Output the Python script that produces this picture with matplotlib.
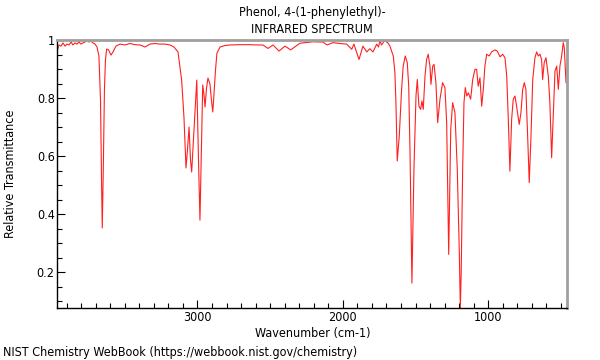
import matplotlib
matplotlib.use("Agg")
import matplotlib.pyplot as plt
from matplotlib.ticker import MultipleLocator, FuncFormatter

plt.rcParams['font.family'] = ['DejaVu Sans']
plt.rcParams['font.stretch'] = 'condensed'

compound = "Phenol, 4-(1-phenylethyl)-"

# spectrum (wavenumber in cm-1, relative transmittance)
wavenumber = [3963, 3953, 3939, 3925, 3911, 3898, 3884, 3870, 3856, 3843,
              3829, 3815, 3801, 3788, 3774, 3760, 3746, 3733, 3719, 3705,
              3691, 3678, 3667, 3660, 3655, 3648, 3640, 3633, 3625, 3612,
              3595, 3581, 3561, 3533, 3499, 3464, 3430, 3395, 3361, 3327,
              3292, 3258, 3224, 3189, 3162, 3134, 3109, 3093, 3079, 3069,
              3058, 3048, 3040, 3024, 3005, 2993, 2983, 2972, 2964, 2955,
              2948, 2938, 2928, 2914, 2904, 2895, 2887, 2876, 2866, 2845,
              2811, 2776, 2708, 2639, 2591, 2550, 2515, 2481, 2439, 2398,
              2359, 2295, 2206, 2137, 2109, 2068, 2020, 1974, 1939, 1924,
              1889, 1862, 1836, 1814, 1793, 1767, 1755, 1745, 1734, 1724,
              1710, 1699, 1690, 1676, 1669, 1653, 1642, 1635, 1626, 1612,
              1596, 1585, 1571, 1557, 1547, 1538, 1525, 1511, 1497, 1488,
              1477, 1465, 1456, 1447, 1435, 1424, 1413, 1401, 1394, 1382,
              1373, 1360, 1348, 1332, 1314, 1298, 1286, 1279, 1272, 1258,
              1245, 1229, 1213, 1199, 1192, 1186, 1176, 1167, 1158, 1148,
              1137, 1121, 1107, 1091, 1080, 1069, 1057, 1045, 1034, 1023,
              1011, 993, 977, 954, 938, 919, 901, 885, 873, 862,
              851, 839, 828, 816, 805, 787, 775, 763, 752, 741,
              729, 718, 706, 694, 679, 667, 656, 644, 633, 626,
              615, 603, 587, 576, 564, 553, 541, 529, 518, 507,
              495, 484, 477, 465]

transmittance = [0.966, 0.983, 0.979, 0.990, 0.979, 0.986, 0.983, 0.993, 0.983, 0.990,
                 0.986, 0.993, 0.986, 0.990, 0.993, 0.998, 0.993, 0.997, 0.990, 0.986,
                 0.976, 0.945, 0.793, 0.517, 0.352, 0.552, 0.828, 0.931, 0.969, 0.966,
                 0.948, 0.959, 0.979, 0.986, 0.983, 0.988, 0.984, 0.983, 0.976, 0.986,
                 0.988, 0.986, 0.986, 0.983, 0.976, 0.959, 0.862, 0.734, 0.559, 0.621,
                 0.700, 0.586, 0.545, 0.690, 0.862, 0.586, 0.379, 0.655, 0.845, 0.810,
                 0.769, 0.834, 0.869, 0.848, 0.793, 0.752, 0.810, 0.897, 0.955, 0.976,
                 0.981, 0.983, 0.984, 0.984, 0.983, 0.983, 0.971, 0.983, 0.962, 0.979,
                 0.966, 0.989, 0.994, 0.993, 0.983, 0.991, 0.988, 0.986, 0.968, 0.986,
                 0.933, 0.979, 0.959, 0.970, 0.959, 0.986, 0.976, 0.997, 0.983, 0.990,
                 1.000, 0.993, 0.990, 0.979, 0.968, 0.945, 0.887, 0.784, 0.583, 0.669,
                 0.830, 0.910, 0.945, 0.922, 0.841, 0.611, 0.162, 0.555, 0.807, 0.864,
                 0.772, 0.761, 0.790, 0.761, 0.876, 0.933, 0.951, 0.910, 0.847, 0.910,
                 0.916, 0.853, 0.715, 0.796, 0.853, 0.836, 0.715, 0.497, 0.261, 0.692,
                 0.784, 0.749, 0.554, 0.267, 0.076, 0.200, 0.555, 0.784, 0.836, 0.807,
                 0.818, 0.796, 0.864, 0.899, 0.899, 0.841, 0.870, 0.772, 0.830, 0.910,
                 0.951, 0.945, 0.959, 0.966, 0.962, 0.942, 0.951, 0.939, 0.876, 0.727,
                 0.548, 0.727, 0.796, 0.807, 0.772, 0.709, 0.749, 0.830, 0.853, 0.830,
                 0.669, 0.508, 0.669, 0.864, 0.939, 0.959, 0.945, 0.951, 0.933, 0.864,
                 0.922, 0.939, 0.876, 0.784, 0.594, 0.738, 0.893, 0.910, 0.830, 0.910,
                 0.945, 0.991, 0.973, 0.853]

fig = plt.figure(figsize=(6, 3.6), dpi=100)
ax = fig.add_axes([0.0958, 0.1444, 0.85, 0.7444])

ax.plot(wavenumber, transmittance, color='#ff2020', linewidth=0.8)

ax.set_xlim(3963, 455)
ax.set_ylim(0.076, 1.0)

ax.xaxis.set_major_locator(MultipleLocator(1000))
ax.xaxis.set_minor_locator(MultipleLocator(100))
ax.yaxis.set_major_locator(MultipleLocator(0.2))
ax.yaxis.set_minor_locator(MultipleLocator(0.05))
ax.yaxis.set_major_formatter(FuncFormatter(lambda v, p: '%g' % round(v, 2)))

ax.tick_params(which='both', direction='in', top=False, right=False, labelsize=9, pad=2)
ax.tick_params(which='major', length=6, width=0.8)
ax.tick_params(which='minor', length=3.5, width=0.8)

for side in ['top', 'right']:
    ax.spines[side].set_color('#a0a0a0')
    ax.spines[side].set_linewidth(2)
for side in ['left', 'bottom']:
    ax.spines[side].set_color('black')
    ax.spines[side].set_linewidth(1)

ax.set_xlabel('Wavenumber (cm-1)', fontsize=9, labelpad=2)
fig.text(0.0167, 0.517, 'Relative Transmittance', rotation=90, ha='center', va='center', fontsize=9)

fig.text(0.52, 0.964, compound, ha='center', va='center', fontsize=9)
fig.text(0.52, 0.917, 'INFRARED SPECTRUM', ha='center', va='center', fontsize=9)
fig.text(0.005, 0.022, 'NIST Chemistry WebBook (https://webbook.nist.gov/chemistry)',
         ha='left', va='center', fontsize=9)

fig.savefig('out.png', dpi=100)
